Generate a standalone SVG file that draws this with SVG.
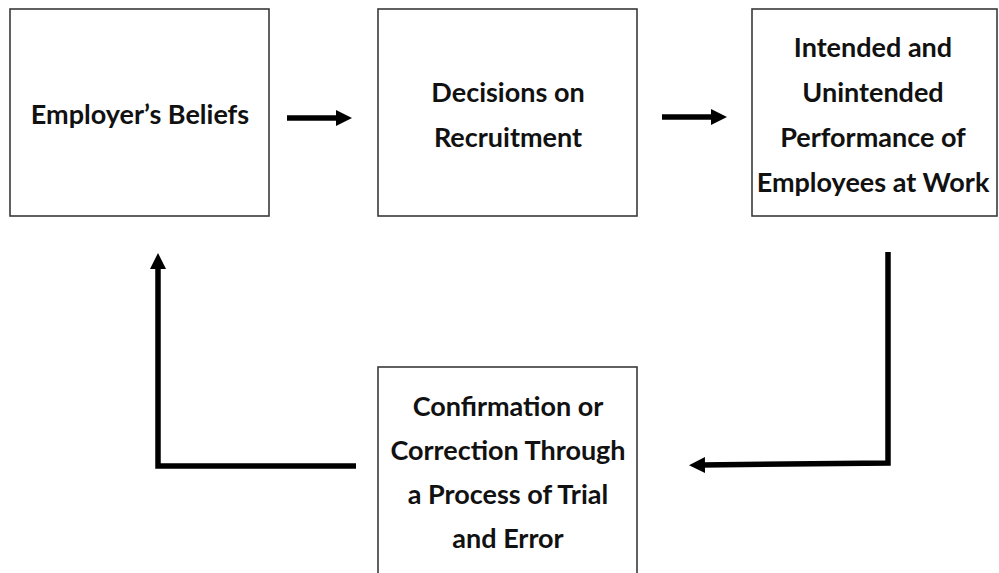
<svg xmlns="http://www.w3.org/2000/svg" width="999" height="573" viewBox="0 0 999 573">
<defs>
<style>
.box{fill:#fff;stroke:#3a3a3a;stroke-width:1.6}
.lbl{font-family:Lato,"Open Sans","Liberation Sans",sans-serif;font-weight:bold;font-size:27px;fill:#111;text-anchor:middle}
.con{fill:none;stroke:#000;stroke-width:5.5;stroke-linejoin:miter}
</style>
<marker id="ah" markerUnits="userSpaceOnUse" markerWidth="18" markerHeight="18" refX="4" refY="8" orient="auto" viewBox="0 0 18 18">
<path d="M0,0 L16,8 L0,16 z" fill="#000"/>
</marker>
</defs>
<rect width="999" height="573" fill="#fff"/>
<g id="n1">
<rect class="box" x="10" y="9" width="259" height="207"/>
<text class="lbl" x="140" y="124">Employer’s Beliefs</text>
</g>
<g id="n2">
<rect class="box" x="378" y="9" width="259" height="207"/>
<text class="lbl" x="508" y="102">Decisions on</text>
<text class="lbl" x="508" y="147">Recruitment</text>
</g>
<g id="n3">
<rect class="box" x="752" y="9" width="245" height="207"/>
<text class="lbl" x="873" y="57">Intended and</text>
<text class="lbl" x="873" y="102">Unintended</text>
<text class="lbl" x="873" y="147">Performance of</text>
<text class="lbl" x="873" y="192">Employees at Work</text>
</g>
<g id="n4">
<rect class="box" x="378" y="367" width="259" height="215"/>
<text class="lbl" x="508" y="416">Confirmation or</text>
<text class="lbl" x="508" y="460">Correction Through</text>
<text class="lbl" x="508" y="504">a Process of Trial</text>
<text class="lbl" x="508" y="548">and Error</text>
</g>
<g id="connectors">
<path class="con" d="M287,118 L340,118" marker-end="url(#ah)"/>
<path class="con" d="M662,117 L715,117" marker-end="url(#ah)"/>
<path class="con" d="M888,252 L888,463 L701,465" marker-end="url(#ah)"/>
<path class="con" d="M356,466 L158,466 L158,265" marker-end="url(#ah)"/>
</g>
</svg>
